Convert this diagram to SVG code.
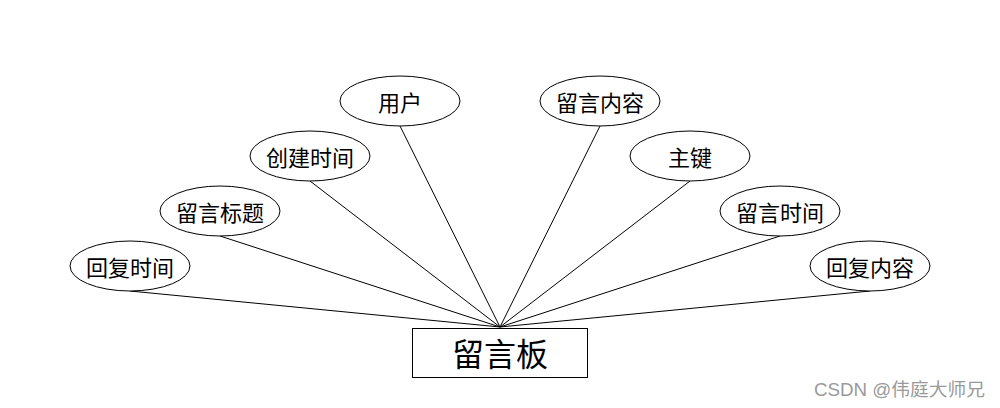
<svg xmlns="http://www.w3.org/2000/svg" width="1000" height="408" viewBox="0 0 1000 408">
<style>
.attr ellipse{fill:#fff;stroke:#000;stroke-width:1}
.attr text{font-family:"Noto Sans CJK SC","Liberation Sans",sans-serif;font-size:22px;fill:#000;text-anchor:middle;dominant-baseline:central}
.conn line{stroke:#000;stroke-width:1}
.ent rect{fill:#fff;stroke:#000;stroke-width:1}
.ent text{font-family:"Noto Sans CJK SC","Liberation Sans",sans-serif;font-size:32px;fill:#000;text-anchor:middle;dominant-baseline:central}
.wm{font-family:"Liberation Sans","Noto Sans CJK SC",sans-serif;font-size:18px;fill:#9a9a9a}
</style>
<rect width="1000" height="408" fill="#fff"/>
<g id="connectors" class="conn">
<line x1="130" y1="291" x2="500" y2="327"/>
<line x1="220" y1="236" x2="500" y2="327"/>
<line x1="310" y1="181" x2="500" y2="327"/>
<line x1="400" y1="126" x2="500" y2="327"/>
<line x1="600" y1="126" x2="500" y2="327"/>
<line x1="690" y1="181" x2="500" y2="327"/>
<line x1="780" y1="236" x2="500" y2="327"/>
<line x1="870" y1="291" x2="500" y2="327"/>
</g>
<g id="huifushijian" class="attr"><ellipse cx="130" cy="266" rx="60" ry="25"/><text x="130" y="266">回复时间</text></g>
<g id="liuyanbiaoti" class="attr"><ellipse cx="220" cy="211" rx="60" ry="25"/><text x="220" y="211">留言标题</text></g>
<g id="chuangjianshijian" class="attr"><ellipse cx="310" cy="156" rx="60" ry="25"/><text x="310" y="156">创建时间</text></g>
<g id="yonghu" class="attr"><ellipse cx="400" cy="101" rx="60" ry="25"/><text x="400" y="101">用户</text></g>
<g id="liuyanneirong" class="attr"><ellipse cx="600" cy="101" rx="60" ry="25"/><text x="600" y="101">留言内容</text></g>
<g id="zhujian" class="attr"><ellipse cx="690" cy="156" rx="60" ry="25"/><text x="690" y="156">主键</text></g>
<g id="liuyanshijian" class="attr"><ellipse cx="780" cy="211" rx="60" ry="25"/><text x="780" y="211">留言时间</text></g>
<g id="huifuneirong" class="attr"><ellipse cx="870" cy="266" rx="60" ry="25"/><text x="870" y="266">回复内容</text></g>
<g id="liuyanban" class="ent"><rect x="412.5" y="328.5" width="175" height="49"/><text x="500" y="352">留言板</text></g>
<text class="wm" x="814" y="396" textLength="171" lengthAdjust="spacingAndGlyphs">CSDN @伟庭大师兄</text>
</svg>
